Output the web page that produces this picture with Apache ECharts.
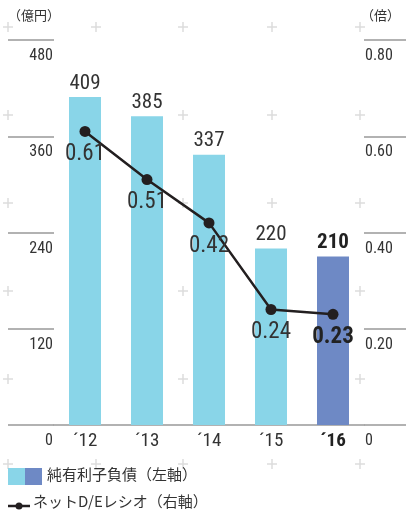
<!DOCTYPE html>
<html>
<head>
<meta charset="utf-8">
<script src="https://cdn.jsdelivr.net/npm/echarts@6/dist/echarts.min.js"></script>
<style>
  html, body { margin: 0; padding: 0; background: #fff; }
  #chart { width: 406px; height: 512px; }
</style>
</head>
<body>
<div id="chart"></div>
<script>
// Net interest-bearing debt (left axis, 億円) and net D/E ratio (right axis, 倍)
var years = ['´12', '´13', '´14', '´15', '´16'];
var debt = [409, 385, 337, 220, 210];
var deRatio = [0.61, 0.51, 0.42, 0.24, 0.23];
var leftTicks = { min: 0, max: 480, interval: 120 };
var rightTicks = { min: 0, max: 0.8, interval: 0.2 };

var NUM_FONT = '"Roboto Condensed", "Liberation Sans Narrow", Roboto, sans-serif';
var JP_FONT = '"Noto Sans CJK JP", "Noto Sans", sans-serif';
var TEXT = '#333';
var CYAN = '#89D5E8';
var BLUE = '#6E89C5';
var LINE = '#231F20';
var last = years.length - 1;

// Faint background crosshair pattern
var plusXs = [8, 96, 183, 272, 360];
var plusYs = [27, 115, 203, 291, 379, 464];
var pluses = [];
plusXs.forEach(function (x) {
  plusYs.forEach(function (y) {
    pluses.push({ type: 'line', z: 0, silent: true,
      shape: { x1: x - 5, y1: y, x2: x + 5, y2: y },
      style: { stroke: '#dcdcdc', lineWidth: 1.5 } });
    pluses.push({ type: 'line', z: 0, silent: true,
      shape: { x1: x, y1: y - 5, x2: x, y2: y + 5 },
      style: { stroke: '#dcdcdc', lineWidth: 1.5 } });
  });
});

var chart = echarts.init(document.getElementById('chart'));
chart.setOption({
  animation: false,
  grid: { left: 54, right: 42, top: 40, bottom: 87, containLabel: false },
  xAxis: {
    type: 'category',
    data: years,
    axisLine: { show: true, lineStyle: { color: '#999', width: 1.5 } },
    axisTick: { show: false },
    axisLabel: {
      interval: 0, margin: 7,
      fontFamily: NUM_FONT, fontSize: 19, color: TEXT,
      formatter: function (v, i) { return i === last ? '{b|' + v + '}' : v; },
      rich: { b: { fontFamily: NUM_FONT, fontSize: 19, fontWeight: 'bold', color: '#222' } }
    }
  },
  yAxis: [
    {
      type: 'value', position: 'left',
      min: leftTicks.min, max: leftTicks.max, interval: leftTicks.interval,
      axisLine: { show: false },
      axisTick: { show: true, length: 46, lineStyle: { color: '#999', width: 1.5 } },
      splitLine: { show: false },
      axisLabel: { margin: 1, verticalAlign: 'top', padding: [8, 0, 0, 0],
        fontFamily: NUM_FONT, fontSize: 16, color: TEXT }
    },
    {
      type: 'value', position: 'right',
      min: rightTicks.min, max: rightTicks.max, interval: rightTicks.interval,
      axisLine: { show: false },
      axisTick: { show: true, length: 42, lineStyle: { color: '#999', width: 1.5 } },
      splitLine: { show: false },
      axisLabel: { margin: 1, verticalAlign: 'top', padding: [8, 0, 0, 0],
        fontFamily: NUM_FONT, fontSize: 16, color: TEXT,
        formatter: function (v) { return v === 0 ? '0' : v.toFixed(2); } }
    }
  ],
  series: [
    {
      type: 'bar', yAxisIndex: 0, z: 2,
      barWidth: 32,
      data: debt.map(function (v, i) {
        return i === last
          ? { value: v, itemStyle: { color: BLUE },
              label: { fontWeight: 'bold', color: '#222' } }
          : v;
      }),
      itemStyle: { color: CYAN },
      label: { show: true, position: 'top', distance: 3,
        fontFamily: NUM_FONT, fontSize: 21, color: TEXT }
    },
    {
      type: 'line', yAxisIndex: 1, z: 3,
      data: deRatio.map(function (v, i) {
        return i === last
          ? { value: v, label: { fontWeight: 'bold', color: '#222' } }
          : v;
      }),
      lineStyle: { color: LINE, width: 2.5 },
      itemStyle: { color: LINE },
      symbol: 'circle', symbolSize: 11, showAllSymbol: true,
      label: { show: true, position: 'bottom', distance: 6,
        fontFamily: NUM_FONT, fontSize: 23, color: TEXT,
        formatter: function (p) { return p.value.toFixed(2); } }
    }
  ],
  graphic: { elements: pluses.concat([
    { type: 'text', left: 8, top: 9, z: 5,
      style: { text: '（億円）', font: '13px ' + JP_FONT, fill: TEXT } },
    { type: 'text', left: 361, top: 9, z: 5,
      style: { text: '（倍）', font: '13px ' + JP_FONT, fill: TEXT } },
    // legend: bar series
    { type: 'rect', z: 5, shape: { x: 8, y: 468, width: 17, height: 17 }, style: { fill: CYAN } },
    { type: 'rect', z: 5, shape: { x: 25, y: 468, width: 17, height: 17 }, style: { fill: BLUE } },
    { type: 'text', left: 47, top: 467, z: 5,
      style: { text: '純有利子負債（左軸）', font: '15px ' + JP_FONT, fill: TEXT } },
    // legend: line series
    { type: 'line', z: 5, shape: { x1: 8, y1: 506, x2: 30, y2: 506 },
      style: { stroke: LINE, lineWidth: 2.5 } },
    { type: 'circle', z: 5, shape: { cx: 19, cy: 506, r: 3.5 }, style: { fill: LINE } },
    { type: 'text', left: 33, top: 494, z: 5,
      style: { text: 'ネットD/Eレシオ（右軸）', font: '15px ' + JP_FONT, fill: TEXT } }
  ]) }
});
</script>
</body>
</html>
